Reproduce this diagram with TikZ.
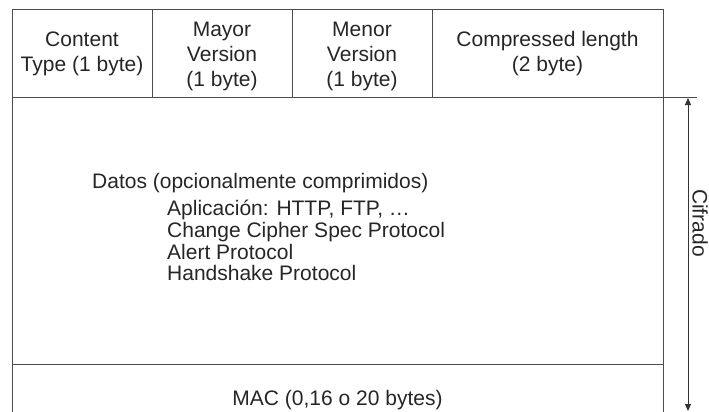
\documentclass[tikz,border=0pt]{standalone}
\usepackage{fontspec}
\setmainfont{Liberation Sans}
\usetikzlibrary{arrows.meta}

\tikzset{
  rule/.style={draw=black!70, line width=0.9pt},
  fieldtext/.style={text=black!85, align=center, inner sep=0pt,
    font=\fontsize{21}{25}\selectfont},
  datatext/.style={text=black!85, align=left, inner sep=0pt,
    font=\fontsize{21}{21.7}\selectfont},
}

\begin{document}
\begin{tikzpicture}[x=1pt,y=1pt]
	\useasboundingbox (0,0) rectangle (709,-412);
	% frame of the record
	\draw[rule] (12,-412) -- (12,-9) -- (663,-9) -- (663,-412);
	\draw[rule] (12,-97) -- (697,-97);
	\draw[rule] (12,-364) -- (663,-364);
	\draw[rule] (152,-9) -- (152,-97);
	\draw[rule] (292,-9) -- (292,-97);
	\draw[rule] (432,-9) -- (432,-97);
	% header fields
	\node[fieldtext] (ctype) at (82,-54) {Content\\Type (1 byte)};
	\node[fieldtext] (mayor) at (222,-56) {Mayor\\Version\\(1 byte)};
	\node[fieldtext] (menor) at (362,-56) {Menor\\Version\\(1 byte)};
	\node[fieldtext] (clen) at (547.5,-54) {Compressed length\\(2 byte)};
	% payload
	\node[datatext, anchor=base west] (datos) at (92,-188) {Datos (opcionalmente comprimidos)};
	\node[datatext, anchor=north west] (protos) at (167,-200)
		{Aplicación: HTTP, FTP, \dots\\Change Cipher Spec Protocol\\Alert Protocol\\Handshake Protocol};
	\node[fieldtext, anchor=base] (mac) at (337.5,-405) {MAC (0,16 o 20 bytes)};
	% encrypted span
	\coordinate (ctop) at (688,-98);
	\coordinate (cbot) at (688,-411);
	\draw[draw=black!80, line width=0.9pt, {Triangle[length=7pt,width=6pt]}-{Triangle[length=7pt,width=6pt]}] (ctop) -- (cbot);
	\node[fieldtext, rotate=-90] (cifrado) at (700,-223) {Cifrado};
\end{tikzpicture}
\end{document}
